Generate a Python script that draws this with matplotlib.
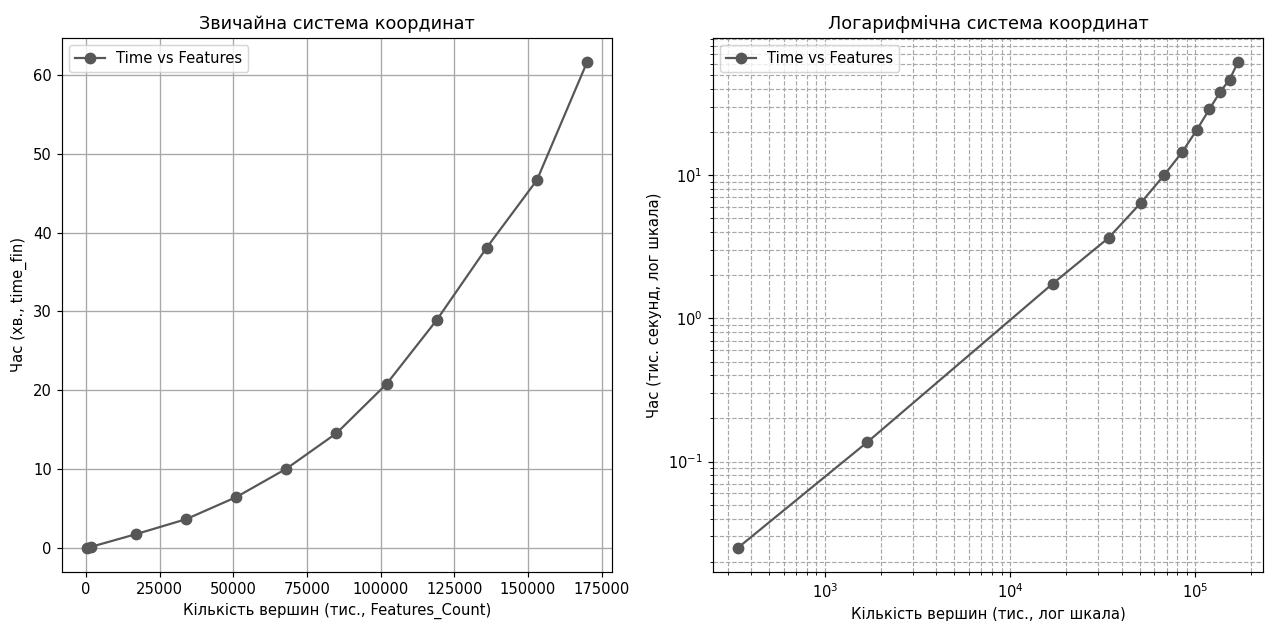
import matplotlib
matplotlib.use("Agg")
import matplotlib.pyplot as plt

features = [340, 1700, 17000, 34000, 51000, 68000, 85000, 102000, 119000, 136000, 153000, 170000]
time_fin = [0.025, 0.137, 1.75, 3.65, 6.45, 10.05, 14.55, 20.8, 28.9, 38.1, 46.65, 61.6]

line_color = "#575757"
DPI = 106

fig = plt.figure(figsize=(1269 / DPI, 621 / DPI), dpi=DPI)
ax1 = fig.add_axes([62/1269, 49/621, 550/1269, 534/621])
ax2 = fig.add_axes([713/1269, 49/621, 550/1269, 534/621])

ax1.plot(features, time_fin, marker="o", color=line_color, lw=1.5, markersize=7,
         label="Time vs Features")
ax1.set_title("Звичайна система координат", fontsize=12)
ax1.set_xlabel("Кількість вершин (тис., Features_Count)")
ax1.set_ylabel("Час (хв., time_fin)")
ax1.grid(True, color="#a8a8a8", lw=0.9)
ax1.legend(loc="upper left")

ax2.plot(features, time_fin, marker="o", color=line_color, lw=1.5, markersize=7,
         label="Time vs Features")
ax2.set_xscale("log")
ax2.set_yscale("log")
ax2.set_title("Логарифмічна система координат", fontsize=12)
ax2.set_xlabel("Кількість вершин (тис., лог шкала)")
ax2.set_ylabel("Час (тис. секунд, лог шкала)")
ax2.grid(True, which="both", ls="--", color="#a8a8a8", lw=0.8)
ax2.legend(loc="upper left")

fig.savefig("out.png", dpi=DPI)
